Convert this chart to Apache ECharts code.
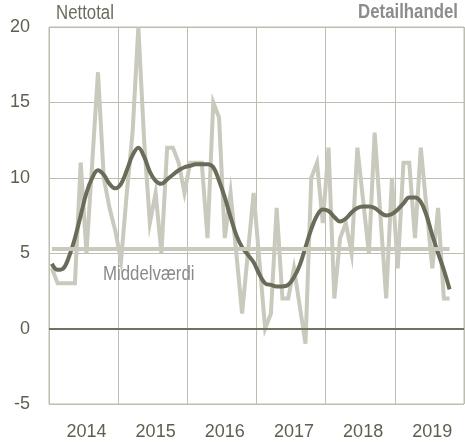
<!DOCTYPE html>
<html>
<head>
<meta charset="utf-8">
<script src="https://cdn.jsdelivr.net/npm/echarts@6/dist/echarts.min.js"></script>
<style>
  html, body { margin: 0; padding: 0; background: #fff; }
  #chart { width: 465px; height: 445px; }
</style>
</head>
<body>
<div id="chart"></div>
<script>
// Years shown on the axis, months run Jan 2014 .. Dec 2019
const years = ['2014', '2015', '2016', '2017', '2018', '2019']
const months = years.flatMap(y => ['01','02','03','04','05','06','07','08','09','10','11','12'].map(m => y + '-' + m))

// Monthly net figure (light line), Jan 2014 .. Oct 2019
const nettotal = [
  4, 3, 3, 3, 3, 11, 5, 11, 17, 10, 8, 6.5,
  4.5, 9, 13, 20, 12.5, 7, 9, 5, 12, 12, 11, 9,
  11, 11, 11, 6, 15, 14, 6, 9, 5, 1, 5, 9,
  4.5, 0, 1, 8, 2, 2, 4, 1.5, -1, 10, 11, 7,
  12, 2, 6, 7, 5, 12, 8.5, 5, 13, 7.5, 2, 10,
  4, 11, 11, 6, 12, 8, 4, 8, 2, 2
]

// Smoothed trend (dark line)
const trend = [
  4.3, 3.9, 4.0, 4.8, 6.0, 7.5, 9.0, 10.0, 10.5, 10.2, 9.6, 9.3,
  9.6, 10.5, 11.5, 12.0, 11.4, 10.4, 9.8, 9.6, 9.9, 10.2, 10.5, 10.7,
  10.8, 10.9, 10.9, 10.9, 10.7, 9.8, 8.7, 7.4, 6.2, 5.4, 4.9, 4.4,
  3.6, 3.0, 2.9, 2.8, 2.8, 2.9, 3.4, 4.2, 5.4, 6.6, 7.5, 7.9,
  7.8, 7.4, 7.1, 7.3, 7.7, 8.0, 8.1, 8.1, 8.0, 7.7, 7.5, 7.6,
  7.9, 8.3, 8.7, 8.7, 8.4, 7.5, 6.2, 5.0, 3.9, 2.6
]

const meanValue = 5.3
const yTicks = [-5, 0, 5, 10, 15, 20]

const font = "'Liberation Sans', Arial, sans-serif"
const gridColor = '#bdbdb0'
const lightColor = '#c9c9bd'
const darkColor = '#6b6b5a'
const narrow = 0.84 // reference uses a condensed face

const chart = echarts.init(document.getElementById('chart'))

chart.setOption({
  animation: false,
  textStyle: { fontFamily: font },
  grid: {
    left: 49,
    right: 1,
    top: 27,
    bottom: 41,
    show: true,
    borderColor: gridColor,
    borderWidth: 1
  },
  graphic: [
    {
      type: 'text',
      x: 56,
      y: 3,
      z: 100,
      scaleX: narrow,
      style: { text: 'Nettotal', fill: '#6b6b5b', font: '20px ' + font }
    },
    {
      type: 'text',
      x: 458,
      y: 2,
      z: 100,
      scaleX: narrow,
      style: { text: 'Detailhandel', fill: '#8c8c8c', font: 'bold 20px ' + font, align: 'right' }
    },
    {
      type: 'text',
      x: 103,
      y: 264,
      z: 100,
      scaleX: narrow,
      style: { text: 'Middelværdi', fill: '#8a8a8a', font: '20px ' + font }
    }
  ],
  xAxis: {
    type: 'category',
    data: months,
    boundaryGap: true,
    axisLine: { show: false },
    axisTick: { show: false },
    axisLabel: {
      interval: (index) => index % 12 === 6,
      formatter: (val) => val.slice(0, 4),
      color: '#5f5f50',
      fontSize: 18,
      fontFamily: font,
      margin: 19
    },
    splitLine: {
      show: true,
      interval: (index) => index % 12 === 0,
      lineStyle: { color: gridColor, width: 1 }
    }
  },
  yAxis: {
    type: 'value',
    min: yTicks[0],
    max: yTicks[yTicks.length - 1],
    interval: 5,
    axisLine: { show: false },
    axisTick: { show: false },
    axisLabel: {
      color: '#5f5f50',
      fontSize: 18,
      fontFamily: font,
      margin: 19
    },
    splitLine: { lineStyle: { color: gridColor, width: 1 } }
  },
  series: [
    {
      name: 'Nettotal',
      type: 'line',
      data: nettotal,
      symbol: 'none',
      lineStyle: { color: lightColor, width: 4, join: 'miter' },
      markLine: {
        silent: true,
        symbol: 'none',
        label: { show: false },
        data: [
          [
            { coord: [months[0], meanValue], lineStyle: { color: lightColor, width: 4, type: 'solid' } },
            { coord: [months[nettotal.length - 1], meanValue] }
          ],
          { yAxis: 0, lineStyle: { color: '#727262', width: 2, type: 'solid' } }
        ]
      }
    },
    {
      name: 'Trend',
      type: 'line',
      data: trend,
      symbol: 'none',
      smooth: 0.4,
      lineStyle: { color: darkColor, width: 4 }
    }
  ]
})
</script>
</body>
</html>
